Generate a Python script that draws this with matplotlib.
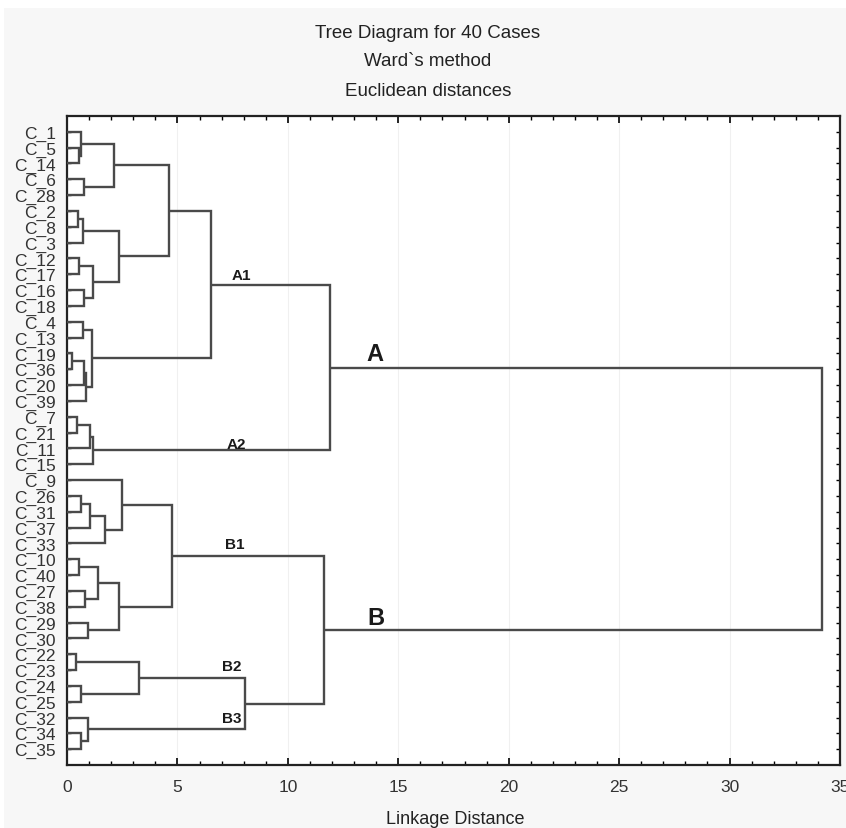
import matplotlib
matplotlib.use("Agg")
import matplotlib.pyplot as plt
from matplotlib.patches import Rectangle
from matplotlib.ticker import MultipleLocator

plt.rcParams['font.family'] = ['Liberation Sans', 'DejaVu Sans']

# Leaf order (top to bottom)
leaves = ["C_1", "C_5", "C_14", "C_6", "C_28", "C_2", "C_8", "C_3", "C_12", "C_17",
          "C_16", "C_18", "C_4", "C_13", "C_19", "C_36", "C_20", "C_39", "C_7", "C_21",
          "C_11", "C_15", "C_9", "C_26", "C_31", "C_37", "C_33", "C_10", "C_40", "C_27",
          "C_38", "C_29", "C_30", "C_22", "C_23", "C_24", "C_25", "C_32", "C_34", "C_35"]

# Merges: (name, child_a, child_b, linkage distance)
merges = [
    ("m1", "C_5", "C_14", 0.53),
    ("m2", "C_1", "m1", 0.64),
    ("m3", "C_6", "C_28", 0.79),
    ("m4", "m2", "m3", 2.12),
    ("m5", "C_2", "C_8", 0.51),
    ("m6", "m5", "C_3", 0.71),
    ("m7", "C_12", "C_17", 0.56),
    ("m8", "C_16", "C_18", 0.77),
    ("m9", "m7", "m8", 1.19),
    ("m10", "m6", "m9", 2.36),
    ("m11", "m4", "m10", 4.63),
    ("m12", "C_4", "C_13", 0.71),
    ("m13", "C_19", "C_36", 0.23),
    ("m14", "m13", "C_20", 0.77),
    ("m15", "m14", "C_39", 0.86),
    ("m16", "m12", "m15", 1.15),
    ("A1", "m11", "m16", 6.52),
    ("m18", "C_7", "C_21", 0.47),
    ("m19", "m18", "C_11", 1.04),
    ("A2", "m19", "C_15", 1.19),
    ("A", "A1", "A2", 11.93),
    ("m22", "C_26", "C_31", 0.63),
    ("m23", "m22", "C_37", 1.04),
    ("m24", "m23", "C_33", 1.70),
    ("m25", "C_9", "m24", 2.47),
    ("m26", "C_10", "C_40", 0.54),
    ("m27", "C_27", "C_38", 0.81),
    ("m28", "m26", "m27", 1.42),
    ("m29", "C_29", "C_30", 0.96),
    ("m30", "m28", "m29", 2.37),
    ("B1", "m25", "m30", 4.77),
    ("m32", "C_22", "C_23", 0.39),
    ("m33", "C_24", "C_25", 0.63),
    ("B2", "m32", "m33", 3.25),
    ("m35", "C_34", "C_35", 0.63),
    ("B3", "C_32", "m35", 0.96),
    ("m37", "B2", "B3", 8.06),
    ("B", "B1", "m37", 11.63),
    ("root", "A", "B", 34.2),
]

# Cluster annotations: (text, x, y bottom, size)
annotations = [
    ("A1", 7.9, 10.5, 11),
    ("A2", 7.65, 21.15, 11),
    ("B1", 7.6, 27.5, 11),
    ("B2", 7.45, 35.2, 11),
    ("B3", 7.45, 38.5, 11),
    ("A", 13.95, 15.75, 17),
    ("B", 13.97, 32.4, 17),
]

title_lines = ["Tree Diagram for 40 Cases", "Ward`s method", "Euclidean distances"]
xlabel = "Linkage Distance"

W, H = 846, 829
fig = plt.figure(figsize=(W / 100, H / 100), dpi=100)
fig.patch.set_facecolor("#f7f7f7")
# white margins at top and left
fig.patches.append(Rectangle((0, 1 - 9 / H), 1, 9 / H, transform=fig.transFigure,
                             facecolor="white", edgecolor="none", zorder=0))
fig.patches.append(Rectangle((0, 0), 4 / W, 1, transform=fig.transFigure,
                             facecolor="white", edgecolor="none", zorder=0))

ax = fig.add_axes([67 / W, (H - 766) / H, (840 - 67) / W, (766 - 117) / H])
ax.set_facecolor("white")

pos = {name: (0.0, i + 1.0) for i, name in enumerate(leaves)}
lc = "#4a4a4a"
lw = 1.7
for name, a, b, h in merges:
    xa, ya = pos[a]
    xb, yb = pos[b]
    ax.plot([xa, h, h, xb], [ya, ya, yb, yb], color=lc, lw=lw,
            solid_joinstyle="miter", solid_capstyle="butt", zorder=3)
    pos[name] = (h, (ya + yb) / 2.0)

for txt, x, y, s in annotations:
    ax.text(x, y, txt, fontsize=s, fontweight="bold", ha="center", va="bottom",
            color="#1a1a1a", zorder=4)

ax.set_xlim(0, 35)
ax.set_ylim(41, 0)
ax.set_yticks(range(1, len(leaves) + 1))
ax.set_yticklabels(leaves, fontsize=12.5, color="#333333")
ax.xaxis.set_major_locator(MultipleLocator(5))
ax.xaxis.set_minor_locator(MultipleLocator(1))
ax.tick_params(axis="x", which="major", direction="in", top=True, bottom=True,
               length=5, width=1.2, labelsize=12.5, pad=10, labelcolor="#333333")
ax.tick_params(axis="x", which="minor", direction="in", top=True, bottom=True,
               length=3, width=1.0)
ax.tick_params(axis="y", which="major", direction="in", left=True, right=True,
               length=3, width=1.0, pad=8)
ax.grid(axis="x", which="major", color="#f0f0f0", lw=0.8, zorder=0)
for sp in ax.spines.values():
    sp.set_linewidth(1.6)
    sp.set_color("#222222")

ys = [34, 62, 91]
for t, y in zip(title_lines, ys):
    fig.text(428 / W, 1 - y / H, t, ha="center", va="center", fontsize=13.5, color="#222222")
fig.text(455 / W, 1 - 820 / H, xlabel, ha="center", va="center", fontsize=13, color="#222222")

fig.savefig("out.png", dpi=100, facecolor=fig.get_facecolor())
